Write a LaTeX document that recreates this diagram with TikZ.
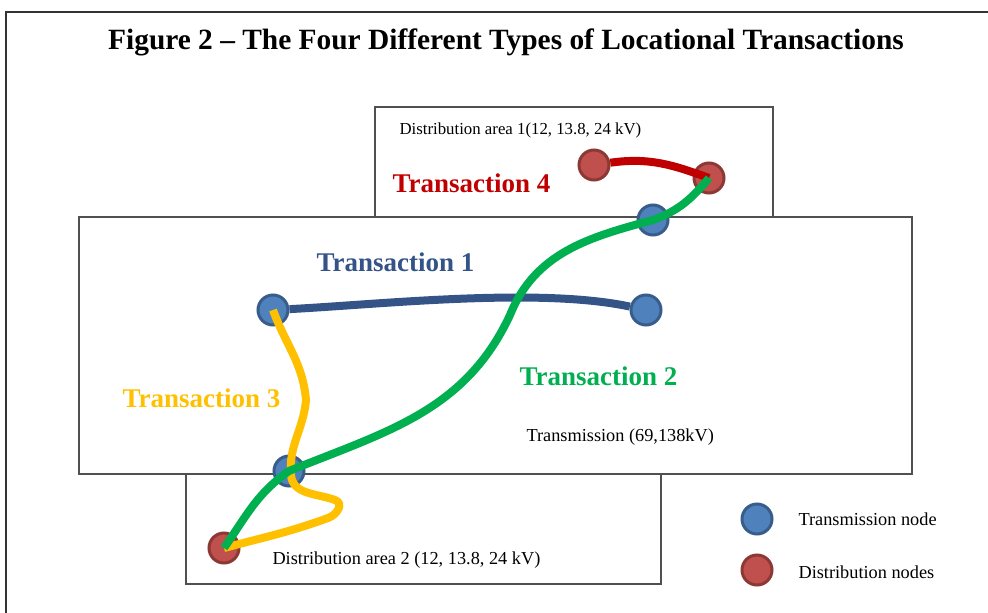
\documentclass[tikz,border=0pt]{standalone}
\usepackage{fontspec}
\setmainfont{Liberation Serif}
\definecolor{tnodefill}{RGB}{79,129,189}
\definecolor{tnodeline}{RGB}{56,93,138}
\definecolor{dnodefill}{RGB}{192,80,77}
\definecolor{dnodeline}{RGB}{140,56,53}
\definecolor{tracone}{RGB}{52,84,136}
\definecolor{tractwo}{RGB}{0,176,80}
\definecolor{tracthree}{RGB}{255,192,0}
\definecolor{tracfour}{RGB}{192,0,0}
\definecolor{boxline}{RGB}{80,80,80}
\begin{document}
\begin{tikzpicture}[x=1pt, y=1pt,
    area/.style={draw=boxline, line width=1.3pt, fill=white},
    tnode/.style={circle, minimum size=30pt, inner sep=0pt, fill=tnodefill, draw=tnodeline, line width=3pt},
    dnode/.style={circle, minimum size=30pt, inner sep=0pt, fill=dnodefill, draw=dnodeline, line width=3pt},
    trac/.style={line width=8pt},
    traclabel/.style={font=\fontsize{27}{30}\selectfont\bfseries, anchor=west},
    small/.style={font=\fontsize{18.3}{20}\selectfont, anchor=west}]
  \useasboundingbox (0,0) rectangle (988,-613);
  % outer frame
  \draw[line width=2.2pt, black!80] (6,-613) -- (6,-12) -- (988,-12);
  \node (title) at (506,-42) {\fontsize{29.4}{32}\selectfont\bfseries Figure 2 -- The Four Different Types of Locational Transactions};

  % the three voltage areas
  \draw[area] (375,-107) rectangle (773,-217);
  \draw[area] (186,-474) rectangle (661,-584);
  \draw[area] (79,-217) rectangle (912,-474);
  \node[anchor=west, font=\fontsize{16.8}{18}\selectfont] (area1) at (396,-130) {Distribution area 1(12, 13.8, 24 kV)};
  \node[small] (trans) at (523,-437) {Transmission (69,138kV)};
  \node[small] (area2) at (269,-560) {Distribution area 2 (12, 13.8, 24 kV)};

  % nodes
  \node[tnode] (t1) at (273,-310) {};
  \node[tnode] (t2) at (646,-310) {};
  \node[tnode] (t3) at (289,-471) {};
  \node[tnode] (t4) at (653,-220) {};
  \node[dnode] (d1) at (594,-165) {};
  \node[dnode] (d2) at (709,-178) {};
  \node[dnode] (d3) at (224,-548) {};

  % transactions
  \draw[trac, tracone] (t1) to[out=3, in=168, looseness=0.7] (t2);
  \draw[trac, tracfour] (d1) to[out=8, in=160] (d2.center);
  \draw[trac, tracthree] (t1.center) to[out=-70, in=95] (306,-400)
    to[out=-95, in=95] (291,-475) to[out=-85, in=160] (335,-500)
    to[out=-20, in=20, looseness=1.3] (328,-518) to[out=200, in=15] (d3.center);
  \draw[trac, tractwo] (d3.center) to[out=55, in=215] (t3.center)
    to[out=22, in=245] (510,-315) to[out=68, in=195] (t4.center)
    to[out=20, in=230] (d2.center);

  \node[traclabel, text=tracone] (lab1) at (313,-262) {Transaction 1};
  \node[traclabel, text=tractwo] (lab2) at (516,-376) {Transaction 2};
  \node[traclabel, text=tracthree] (lab3) at (119,-398) {Transaction 3};
  \node[traclabel, text=tracfour] (lab4) at (389,-183) {Transaction 4};

  % legend
  \node[tnode] (keyt) at (757,-519) {};
  \node[dnode] (keyd) at (757,-570) {};
  \node[small] (keytlab) at (795,-519) {Transmission node};
  \node[small] (keydlab) at (795,-572) {Distribution nodes};
\end{tikzpicture}
\end{document}
